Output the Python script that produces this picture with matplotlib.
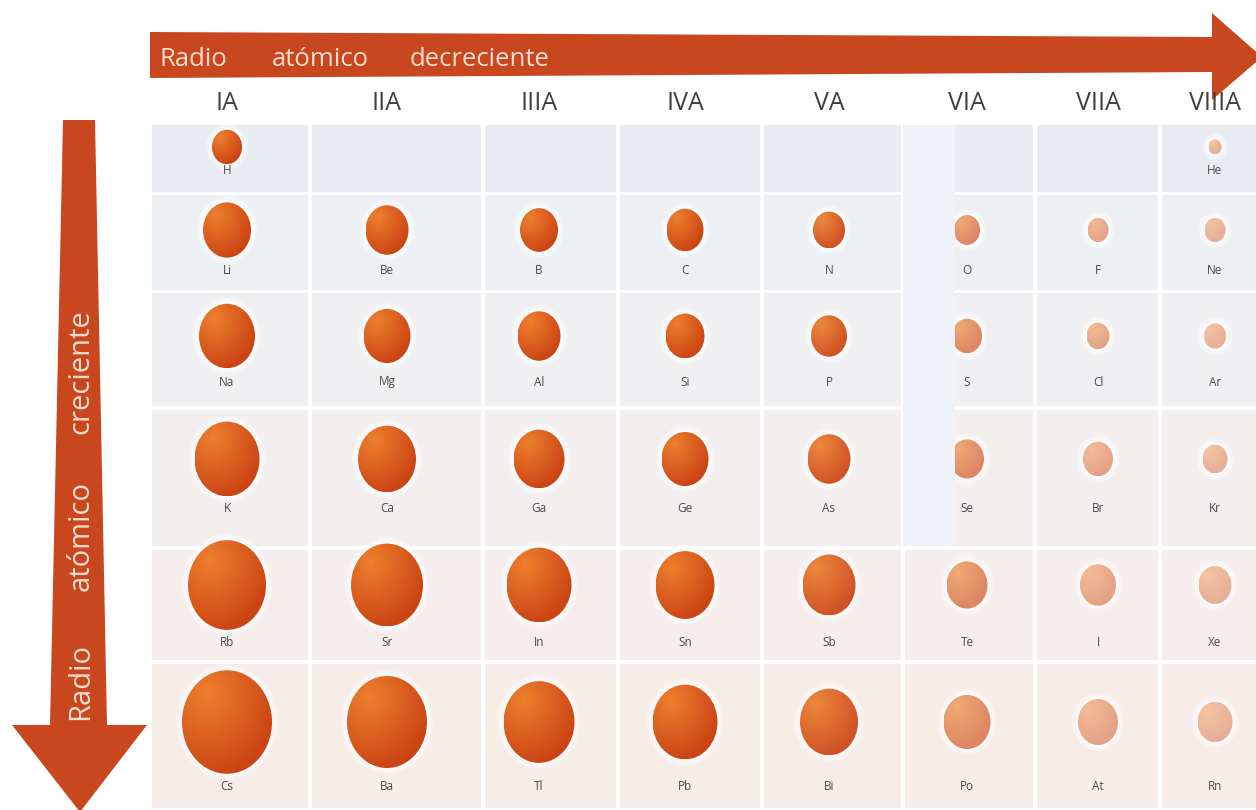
import numpy as np
import matplotlib
matplotlib.use("Agg")
import matplotlib.pyplot as plt
from matplotlib.patches import Ellipse, Rectangle, Polygon

# Group headers and element symbols (rows = periods 1..6)
groups = ["IA", "IIA", "IIIA", "IVA", "VA", "VIA", "VIIA", "VIIIA"]
period1 = ["H", "", "", "", "", "", "", "He"]
period2 = ["Li", "Be", "B", "C", "N", "O", "F", "Ne"]
period3 = ["Na", "Mg", "Al", "Si", "P", "S", "Cl", "Ar"]
period4 = ["K", "Ca", "Ga", "Ge", "As", "Se", "Br", "Kr"]
period5 = ["Rb", "Sr", "In", "Sn", "Sb", "Te", "I", "Xe"]
period6 = ["Cs", "Ba", "Tl", "Pb", "Bi", "Po", "At", "Rn"]

# Drawn sphere widths
size1 = [30, 0, 0, 0, 0, 0, 0, 13]
size2 = [48, 43, 38, 37, 32, 26, 21, 21]
size3 = [56, 47, 43, 39, 36, 30, 23, 22]
size4 = [65, 58, 51, 47, 43, 34, 30, 25]
size5 = [78, 72, 65, 59, 53, 41, 36, 33]
size6 = [90, 80, 71, 65, 58, 47, 40, 35]

symbols = [period1, period2, period3, period4, period5, period6]
sizes = [size1, size2, size3, size4, size5, size6]

# layout (pixels)
col_x = [227, 387, 539, 685, 829, 967, 1098, 1215]
row_y = [147, 230, 336, 459, 585, 722]
lab_y = [171, 271, 382, 508, 643, 787]
col_edges = [150, 310, 483, 618, 762, 903, 1035, 1160, 1262]
row_edges = [(125, 192), (195, 290), (293, 406), (410, 546), (550, 660), (664, 808)]
row_bg = ["#e8ecf1", "#edf0f3", "#f0f0f2", "#f3efef", "#f5eeec", "#f6ece8"]
fade = [0.0, 0.0, 0.0, 0.0, 0.08, 0.38, 0.55, 0.62]

arrow_col = "#c8471f"
text_light = "#f6dccf"
font = "Open Sans"

fig = plt.figure(figsize=(12.56, 8.10), dpi=100)
ax = fig.add_axes([0, 0, 1, 1])
ax.set_xlim(0, 1256)
ax.set_ylim(810, 0)
ax.axis("off")

# background cells
for r, (y0, y1) in enumerate(row_edges):
    for c in range(len(groups)):
        x0, x1 = col_edges[c] + 2, col_edges[c + 1] - 2
        ax.add_patch(Rectangle((x0, y0), x1 - x0, y1 - y0, facecolor=row_bg[r],
                               edgecolor="none", zorder=1))


def sphere(cx, cy, w, f):
    h = w * 1.15
    # soft halo
    for k, a in ((12, 0.35), (6, 0.5)):
        ax.add_patch(Ellipse((cx, cy), w + k, h + k, facecolor="white",
                             edgecolor="none", alpha=a, zorder=2))
    light = np.array([0.93, 0.50, 0.18])
    dark = np.array([0.80, 0.27, 0.08])
    n = 64
    u, v = np.meshgrid(np.linspace(-1, 1, n), np.linspace(-1, 1, n))
    t = np.clip(np.sqrt((u + 0.45) ** 2 + (v + 0.55) ** 2) / 1.6, 0, 1)[..., None]
    img = light * (1 - t) + dark * t
    img = img * (1 - f) + f * np.array([0.97, 0.93, 0.91])
    el = Ellipse((cx, cy), w, h, facecolor="none", edgecolor="none", zorder=3)
    ax.add_patch(el)
    im = ax.imshow(img, extent=(cx - w / 2, cx + w / 2, cy + h / 2, cy - h / 2),
                   origin="upper", zorder=3, interpolation="bilinear")
    im.set_clip_path(el)


for r in range(6):
    for c in range(8):
        sym = symbols[r][c]
        if not sym:
            continue
        sphere(col_x[c], row_y[r], sizes[r][c], fade[c])
        ax.text(col_x[c], lab_y[r], sym, ha="center", va="center", fontsize=8.5,
                color="#4a4a4a", family=font, zorder=6)

# pale strip cutting into the VIA column (as in the original scan)
ax.add_patch(Rectangle((903, 125), 52, 421, facecolor="#eff2f6", edgecolor="none",
                       zorder=4))

# group headers
for c, g in enumerate(groups):
    ax.text(col_x[c], 104, g, ha="center", va="center", fontsize=18,
            color="#3f3f3f", family=font, zorder=6)

# horizontal arrow
ax.add_patch(Polygon([(150, 32), (1212, 37), (1212, 13), (1262, 57), (1212, 100),
                      (1212, 72), (150, 78)], closed=True, facecolor=arrow_col,
                     edgecolor="none", zorder=5))
for x, word in ((160, "Radio"), (272, "atómico"), (410, "decreciente")):
    ax.text(x, 59, word, ha="left", va="center", fontsize=18.5, color=text_light,
            family=font, zorder=6)

# vertical arrow (shaft widens slightly towards the head)
ax.add_patch(Polygon([(63, 120), (95, 120), (107, 725), (147, 725), (80, 812),
                      (12, 725), (50, 725)], closed=True, facecolor=arrow_col,
                     edgecolor="none", zorder=5))
for y, word in ((720, "Radio"), (591, "atómico"), (434, "creciente")):
    ax.text(81, y, word, ha="center", va="bottom", rotation=90, fontsize=21,
            color=text_light, family=font, zorder=6)

fig.savefig("out.png", dpi=100)
